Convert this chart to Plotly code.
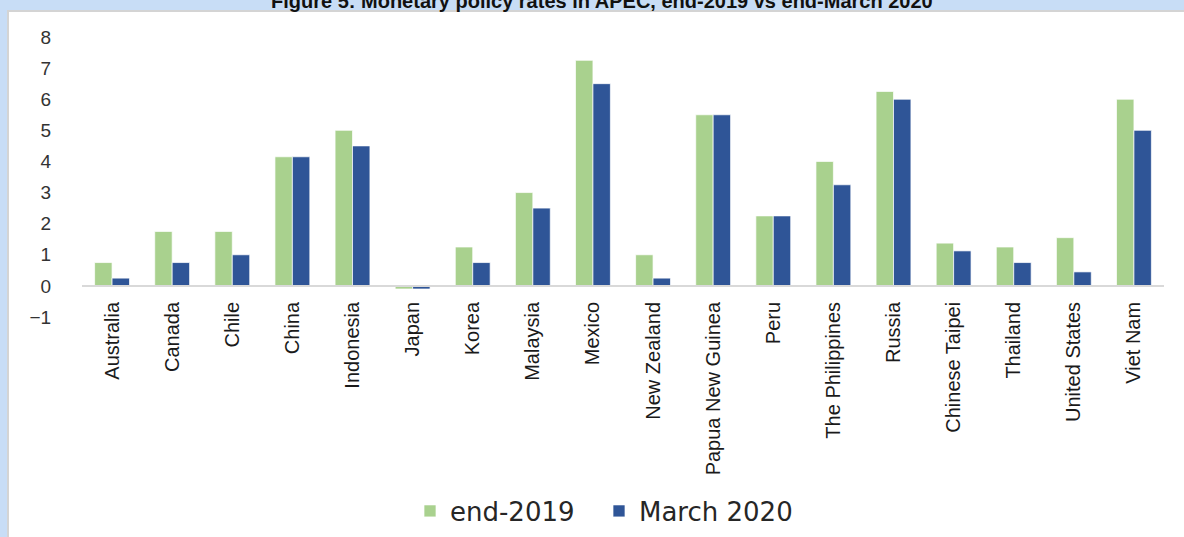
import plotly.graph_objects as go

economies = ["Australia", "Canada", "Chile", "China", "Indonesia", "Japan", "Korea",
             "Malaysia", "Mexico", "New Zealand", "Papua New Guinea", "Peru",
             "The Philippines", "Russia", "Chinese Taipei", "Thailand",
             "United States", "Viet Nam"]
end_2019 = [0.75, 1.75, 1.75, 4.15, 5.0, -0.1, 1.25, 3.0, 7.25, 1.0, 5.5, 2.25,
            4.0, 6.25, 1.375, 1.25, 1.55, 6.0]
march_2020 = [0.25, 0.75, 1.0, 4.15, 4.5, -0.1, 0.75, 2.5, 6.5, 0.25, 5.5, 2.25,
              3.25, 6.0, 1.125, 0.75, 0.45, 5.0]
y_ticks = [-1, 0, 1, 2, 3, 4, 5, 6, 7, 8]
title_text = "Figure 5: Monetary policy rates in APEC, end-2019 vs end-March 2020"

GREEN = "#A9D18E"
BLUE = "#2F5597"

W, H = 1184, 537
L, R, T, B = 82, 20, 37, 220
PW, PH = W - L - R, H - T - B


def px_x(p):
    return (p - L) / PW


def px_y(p):
    return (H - B - p) / PH


fig = go.Figure()
fig.add_bar(x=economies, y=end_2019, name="end-2019", legend="legend",
            marker=dict(color=GREEN, line=dict(color="rgba(255,255,255,0.7)", width=1)))
fig.add_bar(x=economies, y=march_2020, name="March 2020", legend="legend2",
            marker=dict(color=BLUE, line=dict(color="rgba(255,255,255,0.7)", width=1)))

legend_common = dict(orientation="h", xanchor="left", y=px_y(511), yanchor="middle",
                     font=dict(family="DejaVu Sans", size=26, color="#262626"),
                     bgcolor="rgba(0,0,0,0)", itemwidth=30)

fig.update_layout(
    width=W, height=H,
    margin=dict(l=L, r=R, t=T, b=B, autoexpand=False),
    paper_bgcolor="#c8ddf6",
    plot_bgcolor="rgba(0,0,0,0)",
    barmode="group",
    bargap=0.42,
    bargroupgap=0,
    showlegend=True,
    legend=dict(x=px_x(410), **legend_common),
    legend2=dict(x=px_x(599), **legend_common),
    font=dict(family="Liberation Sans, Arial", color="#262626"),
    xaxis=dict(
        anchor="free", position=1 / 9,
        showline=True, linecolor="#d9d9d9", linewidth=2,
        showgrid=False, tickangle=-90, automargin=False,
        tickfont=dict(family="Liberation Sans, Arial", size=20, color="#1a1a1a"),
        ticks="outside", ticklen=7, tickcolor="rgba(0,0,0,0)",
        range=[-0.5, 17.5],
    ),
    yaxis=dict(
        range=[-1, 8], tickvals=y_ticks, showgrid=False, zeroline=False,
        showline=False, automargin=False,
        tickfont=dict(family="Liberation Sans, Arial", size=19, color="#333333"),
        ticks="outside", ticklen=26, tickcolor="rgba(0,0,0,0)",
    ),
    shapes=[
        dict(type="rect", xref="paper", yref="paper", layer="below",
             x0=px_x(8), x1=px_x(W + 20), y0=px_y(11), y1=px_y(H + 20),
             fillcolor="white", line=dict(color="#d4d4d4", width=2)),
    ],
    annotations=[
        dict(text="<b>" + title_text + "</b>", xref="paper", yref="paper",
             x=px_x(602), y=px_y(1), xanchor="center", yanchor="middle",
             showarrow=False, font=dict(family="Liberation Sans, Arial", size=20, color="#111111")),
    ],
)

fig.write_html("out.html", config={"displayModeBar": False},
               post_script="document.body.style.margin='0';document.body.style.overflow='hidden';")
